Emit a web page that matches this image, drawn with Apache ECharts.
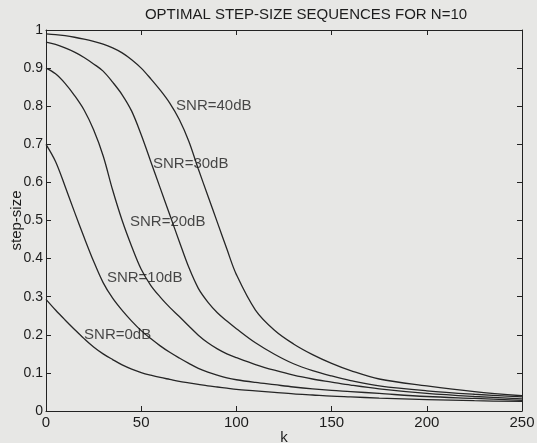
<!DOCTYPE html>
<html>
<head>
<meta charset="utf-8">
<script src="https://cdn.jsdelivr.net/npm/echarts@6/dist/echarts.min.js"></script>
<style>
html,body{margin:0;padding:0;background:#e7e7e5;overflow:hidden;}
#chart{width:537px;height:443px;}
</style>
</head>
<body>
<div id="chart"></div>
<script>
// ---- data ----
var titleText = 'OPTIMAL STEP-SIZE SEQUENCES FOR N=10';
var kSteps = [0,5,10,15,20,25,30,35,40,45,50,55,60,65,70,75,80,85,90,95,100,110,120,130,140,150,160,175,200,225,250];
var snr0dB  = [0.293,0.265,0.239,0.214,0.190,0.168,0.150,0.135,0.121,0.110,0.101,0.094,0.088,0.083,0.078,0.074,0.070,0.066,0.063,0.060,0.057,0.053,0.049,0.045,0.042,0.039,0.037,0.034,0.030,0.027,0.025];
var snr10dB = [0.700,0.655,0.590,0.522,0.456,0.393,0.337,0.296,0.264,0.236,0.211,0.190,0.171,0.154,0.139,0.125,0.112,0.102,0.094,0.087,0.082,0.075,0.069,0.063,0.058,0.054,0.051,0.046,0.038,0.033,0.028];
var snr20dB = [0.900,0.885,0.860,0.828,0.790,0.738,0.670,0.580,0.500,0.432,0.372,0.330,0.299,0.272,0.248,0.223,0.199,0.179,0.163,0.150,0.140,0.122,0.107,0.094,0.084,0.076,0.068,0.058,0.046,0.038,0.032];
var snr30dB = [0.968,0.962,0.953,0.942,0.928,0.911,0.892,0.863,0.830,0.787,0.725,0.655,0.585,0.515,0.445,0.377,0.322,0.286,0.258,0.236,0.216,0.179,0.149,0.124,0.106,0.092,0.080,0.066,0.053,0.044,0.037];
var snr40dB = [0.990,0.988,0.985,0.981,0.976,0.970,0.963,0.953,0.940,0.922,0.900,0.872,0.842,0.808,0.765,0.708,0.635,0.565,0.495,0.425,0.358,0.265,0.212,0.176,0.148,0.125,0.106,0.084,0.066,0.051,0.040];
var seriesNames = ['SNR=0dB','SNR=10dB','SNR=20dB','SNR=30dB','SNR=40dB'];
// annotation anchors (k, step-size) at the left edge of each label
var labelK = [20.0, 32.0, 44.1, 56.2, 68.3];
var labelV = [0.199, 0.349, 0.496, 0.648, 0.800];
var xTicks = [0,50,100,150,200,250];
var yTicks = [0,0.1,0.2,0.3,0.4,0.5,0.6,0.7,0.8,0.9,1];

// ---- chart ----
var FONT = '"Liberation Sans", Arial, Helvetica, sans-serif';
var INK = '#1c1c1c';
var allValues = [snr0dB, snr10dB, snr20dB, snr30dB, snr40dB];

function pairs(vals){ return kSteps.map(function(k,i){ return [k, vals[i]]; }); }

var series = allValues.map(function(vals, i){
  return {
    name: seriesNames[i], type: 'line', data: pairs(vals),
    showSymbol: false, smooth: 0.35,
    lineStyle: {color: '#262626', width: 1.3},
    silent: true, z: 3
  };
});
series.push({
  type: 'scatter', symbolSize: 0, silent: true, z: 5,
  data: labelK.map(function(k,i){ return {value:[k, labelV[i]], name: seriesNames[i]}; }),
  label: {show: true, position: [0, 0], align: 'left', verticalAlign: 'middle', formatter: '{b}',
          color: INK, fontFamily: FONT, fontSize: 15}
});

function yFmt(v){ if (Math.abs(v) < 1e-9) return '0'; if (Math.abs(v-1) < 1e-9) return '1'; return v.toFixed(1); }

var axisLine = {show: true, onZero: false, lineStyle: {color: '#222', width: 1}};
var chart = echarts.init(document.getElementById('chart'), null, {renderer: 'canvas'});
chart.setOption({
  backgroundColor: '#e7e7e5',
  animation: false,
  title: {text: titleText, left: 301, top: 2, textAlign: 'center',
          textStyle: {fontFamily: FONT, fontSize: 15, fontWeight: 'normal', color: INK}},
  grid: {left: 46, right: 15, top: 30, bottom: 32, containLabel: false, outerBoundsMode: 'none'},
  xAxis: [
    {type: 'value', min: xTicks[0], max: xTicks[xTicks.length-1], interval: 50, position: 'bottom',
     name: 'k', nameLocation: 'middle', nameGap: 19, nameMoveOverlap: false,
     nameTextStyle: {fontFamily: FONT, fontSize: 15, color: INK},
     axisLine: axisLine, axisTick: {show: true, inside: true, length: 5, lineStyle: {color: '#222'}},
     axisLabel: {fontFamily: FONT, fontSize: 15, color: INK, margin: 4},
     splitLine: {show: false}},
    {type: 'value', min: xTicks[0], max: xTicks[xTicks.length-1], interval: 50, position: 'top',
     axisLine: axisLine, axisTick: {show: true, inside: true, length: 5, lineStyle: {color: '#222'}},
     axisLabel: {show: false}, splitLine: {show: false}}
  ],
  yAxis: [
    {type: 'value', min: yTicks[0], max: yTicks[yTicks.length-1], interval: 0.1, position: 'left',
     name: 'step-size', nameLocation: 'middle', nameGap: 22, nameRotate: 90, nameMoveOverlap: false,
     nameTextStyle: {fontFamily: FONT, fontSize: 15, color: INK},
     axisLine: axisLine, axisTick: {show: true, inside: true, length: 5, lineStyle: {color: '#222'}},
     axisLabel: {fontFamily: FONT, fontSize: 14, color: INK, margin: 3, formatter: yFmt},
     splitLine: {show: false}},
    {type: 'value', min: yTicks[0], max: yTicks[yTicks.length-1], interval: 0.1, position: 'right',
     axisLine: axisLine, axisTick: {show: true, inside: true, length: 5, lineStyle: {color: '#222'}},
     axisLabel: {show: false}, splitLine: {show: false}}
  ],
  series: series
});
</script>
</body>
</html>
